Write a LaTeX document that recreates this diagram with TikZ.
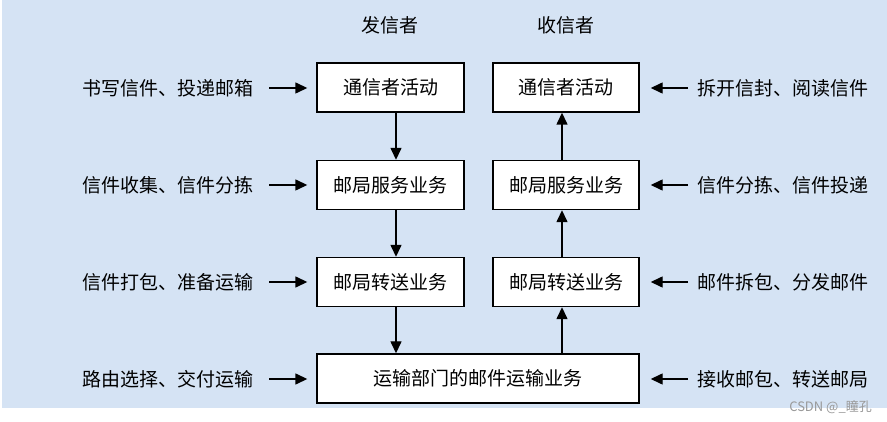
\documentclass[tikz,border=0pt]{standalone}
\usepackage{fontspec}
\setmainfont{Noto Sans CJK SC}
\usetikzlibrary{arrows.meta}
\definecolor{bgblue}{RGB}{213,227,244}
\begin{document}
\begin{tikzpicture}[x=1pt,y=-1pt,
 box/.style={draw=black,line width=1.4pt,fill=white,minimum height=49pt,inner sep=0pt,font=\fontsize{19}{21}\selectfont},
 lbl/.style={font=\fontsize{19}{21}\selectfont,inner sep=0pt},
 arr/.style={line width=1.4pt,-{Triangle[length=12pt,width=11pt]}}]
\useasboundingbox (0,0) rectangle (887,422);
\fill[white] (0,0) rectangle (887,422);
\fill[bgblue] (2,0) rectangle (887,408);
% titles
\node[lbl] (ts) at (390,25) {发信者};
\node[lbl] (tr) at (566,25) {收信者};
% boxes
\node[box,minimum width=147pt] (s1) at (390.5,87.5) {通信者活动};
\node[box,minimum width=147pt] (s2) at (390.5,185) {邮局服务业务};
\node[box,minimum width=147pt] (s3) at (390.5,282) {邮局转送业务};
\node[box,minimum width=146pt] (r1) at (566,87.5) {通信者活动};
\node[box,minimum width=146pt] (r2) at (566,185) {邮局服务业务};
\node[box,minimum width=146pt] (r3) at (566,282) {邮局转送业务};
\node[box,minimum width=322pt] (t) at (478,378.5) {运输部门的邮件运输业务};
% left labels
\node[lbl,anchor=east] (l1) at (254,88) {书写信件、投递邮箱};
\node[lbl,anchor=east] (l2) at (254,185) {信件收集、信件分拣};
\node[lbl,anchor=east] (l3) at (254,282) {信件打包、准备运输};
\node[lbl,anchor=east] (l4) at (254,379) {路由选择、交付运输};
% right labels
\node[lbl,anchor=west] (q1) at (697,88) {拆开信封、阅读信件};
\node[lbl,anchor=west] (q2) at (697,185) {信件分拣、信件投递};
\node[lbl,anchor=west] (q3) at (697,282) {邮件拆包、分发邮件};
\node[lbl,anchor=west] (q4) at (697,379) {接收邮包、转送邮局};
% horizontal arrows
\draw[arr,shorten <=15pt,shorten >=9pt] (l1.east) -- (l1.east -| s1.west);
\draw[arr,shorten <=15pt,shorten >=9pt] (l2.east) -- (l2.east -| s2.west);
\draw[arr,shorten <=15pt,shorten >=9pt] (l3.east) -- (l3.east -| s3.west);
\draw[arr,shorten <=15pt,shorten >=9pt] (l4.east) -- (l4.east -| t.west);
\draw[arr,shorten <=9pt,shorten >=11pt] (q1.west) -- (q1.west -| r1.east);
\draw[arr,shorten <=9pt,shorten >=11pt] (q2.west) -- (q2.west -| r2.east);
\draw[arr,shorten <=9pt,shorten >=11pt] (q3.west) -- (q3.west -| r3.east);
\draw[arr,shorten <=9pt,shorten >=11pt] (q4.west) -- (q4.west -| t.east);
% vertical arrows
\draw[arr] ([xshift=5.5pt]s1.south) -- ([xshift=5.5pt]s2.north);
\draw[arr] ([xshift=5.5pt]s2.south) -- ([xshift=5.5pt]s3.north);
\draw[arr] ([xshift=5.5pt]s3.south) -- ([xshift=5.5pt]s3.south |- t.north);
\draw[arr] ([xshift=-4pt]r3.south |- t.north) -- ([xshift=-4pt]r3.south);
\draw[arr] ([xshift=-4pt]r3.north) -- ([xshift=-4pt]r2.south);
\draw[arr] ([xshift=-4pt]r2.north) -- ([xshift=-4pt]r1.south);
% watermark
\node[font=\fontsize{13}{14}\selectfont,text=black!40,anchor=east,inner sep=0pt] (wm) at (872,407) {CSDN @\_瞳孔};
\end{tikzpicture}
\end{document}
